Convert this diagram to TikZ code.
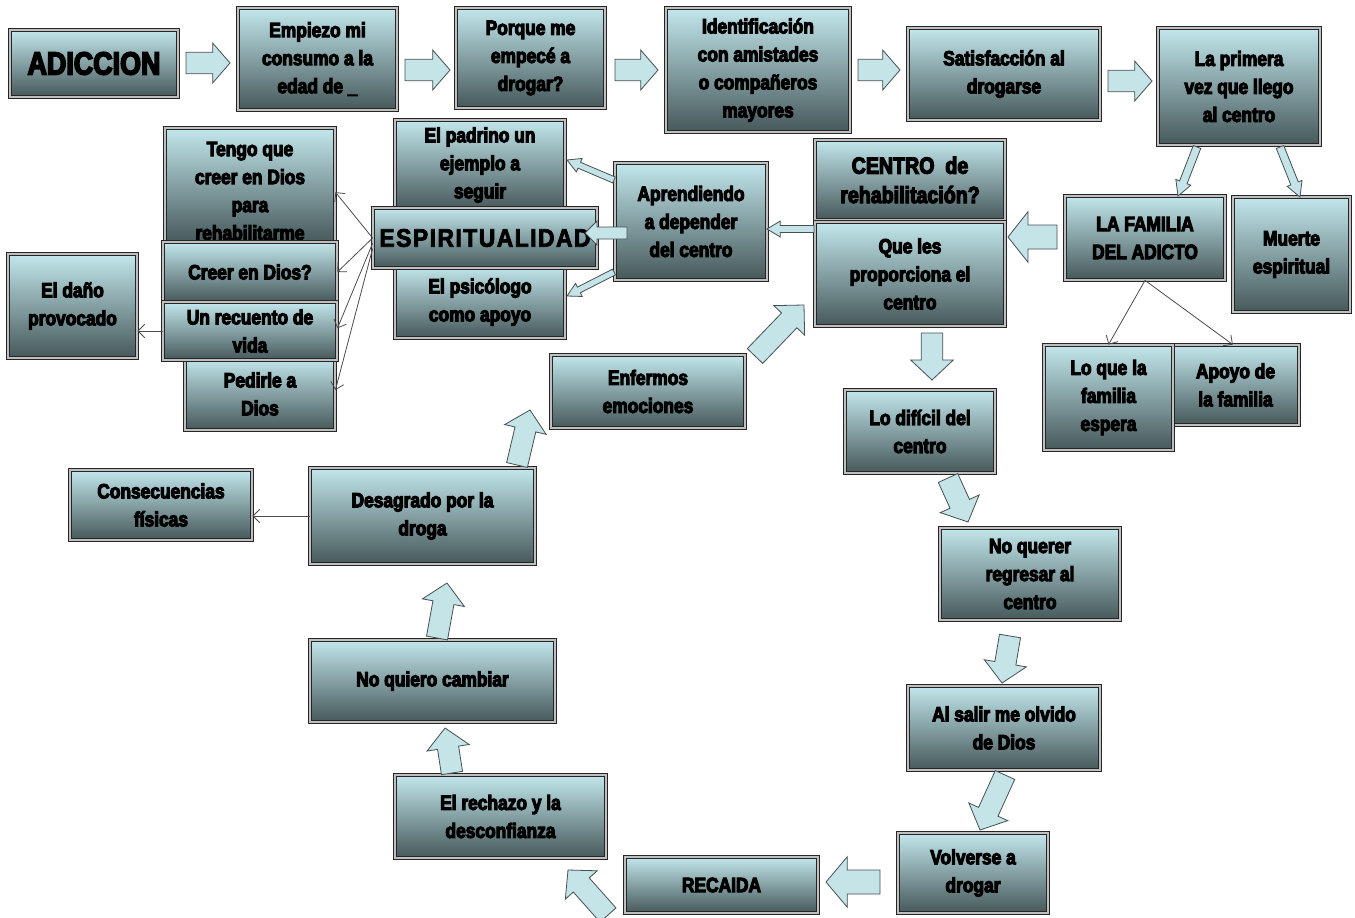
\documentclass[tikz,border=0pt]{standalone}
\usepackage{fontspec}
\setmainfont{Liberation Sans}
\newfontfamily\cfont{Liberation Sans}[FakeStretch=0.84,FakeBold=5]
\newfontfamily\wfont{Liberation Sans}[FakeStretch=0.9,LetterSpace=6,FakeBold=3]
\usetikzlibrary{calc,arrows.meta}
\definecolor{boxtop}{RGB}{194,231,236}
\definecolor{boxbot}{RGB}{70,88,90}
\definecolor{arrfill}{RGB}{196,228,232}
\definecolor{arrline}{RGB}{70,80,82}
\tikzset{
  box/.style={draw=black!85, line width=0.6pt, double=gray!50, double distance=1.6pt,
    top color=boxtop, bottom color=boxbot, inner sep=0pt, align=center,
    font=\cfont\bfseries\fontsize{15.5}{21}\selectfont, text=black},
  ln/.style={draw=black!70, line width=0.6pt, -{Straight Barb[length=5pt,width=10pt]}},
  barr/.style={draw=arrline, line width=0.6pt, fill=arrfill, line join=miter}
}
% box: [opts] x1 y1 x2 y2 name text
\newcommand\bx[7][]{\node[box,minimum width={(#4-#2)*0.75pt},minimum height={(#5-#3)*0.75pt},#1] (#6) at ({(#2+#4)/2},{(#3+#5)/2}) {#7};}
% block arrow: tail, tip, name, shaft half width, head half width, head length
\newcommand\barrow[6]{%
  \coordinate (#3-t) at (#1); \coordinate (#3-h) at (#2);
  \coordinate (#3-b) at ($(#3-h)!#6!(#3-t)$);
  \draw[barr] ($(#3-t)!#4!90:(#3-h)$) -- ($(#3-b)!#4!90:(#3-h)$) -- ($(#3-b)!#5!90:(#3-h)$) -- (#3-h) -- ($(#3-b)!#5!-90:(#3-h)$) -- ($(#3-b)!#4!-90:(#3-h)$) -- ($(#3-t)!#4!-90:(#3-h)$) -- cycle;}
\begin{document}
\begin{tikzpicture}[x=0.75pt,y=-0.75pt]
\fill[white] (0,0) rectangle (1355,917);
\useasboundingbox (0,0) rectangle (1355,917);
% top row
\bx[font=\cfont\bfseries\fontsize{24}{26}\selectfont]{10}{30}{178}{97}{adic}{ADICCION}
\bx{238}{8}{397}{110}{empiezo}{Empiezo mi\\consumo a la\\edad de \_}
\bx{456}{8}{605}{108}{porque}{Porque me\\empecé a\\drogar?}
\bx{666}{8}{850}{132}{ident}{Identificación\\con amistades\\o compañeros\\mayores}
\bx{908}{28}{1100}{120}{satis}{Satisfacción al\\drogarse}
\bx{1158}{28}{1320}{145}{primera}{La primera\\vez que llego\\al centro}
% left cluster
\bx{165}{128}{335}{243}{tengo}{\rule{0pt}{19pt}Tengo que\\creer en Dios\\para\\rehabilitarme}
\bx{163}{242}{337}{302}{creer}{Creer en Dios?}
\bx{185}{358}{335}{430}{pedir}{Pedirle a\\Dios}
\bx{163}{302}{337}{360}{recuento}{Un recuento de\\vida}
\bx{8}{254}{137}{358}{dano}{El daño\\provocado}
\bx{395}{120}{565}{210}{padrino}{El padrino un\\ejemplo a\\seguir}
\bx{395}{266}{565}{338}{psico}{El psicólogo\\como apoyo}
\bx[font=\wfont\bfseries\fontsize{19}{22}\selectfont]{373}{208}{597}{268}{espi}{ESPIRITUALIDAD}
\bx{615}{163}{767}{280}{aprend}{Aprendiendo\\a depender\\del centro}
% centre
\bx[font=\cfont\bfseries\fontsize{17.5}{22}\selectfont]{815}{140}{1005}{220}{centro}{CENTRO\ \ de\\rehabilitación?}
\bx{815}{222}{1005}{326}{queles}{Que les\\proporciona el\\centro}
\bx{1065}{196}{1225}{280}{familia}{LA FAMILIA\\DEL ADICTO}
\bx{1233}{197}{1350}{312}{muerte}{Muerte\\espiritual}
\bx{1172}{345}{1299}{425}{apoyo}{Apoyo de\\la familia}
\bx{1044}{345}{1173}{450}{loque}{Lo que la\\familia\\espera}
% cycle
\bx{551}{355}{745}{428}{enfermos}{Enfermos\\emociones}
\bx{845}{390}{995}{473}{dificil}{Lo difícil del\\centro}
\bx{70}{470}{252}{540}{consec}{Consecuencias\\físicas}
\bx{310}{468}{535}{564}{desag}{Desagrado por la\\droga}
\bx{940}{528}{1120}{620}{noquerer}{No querer\\regresar al\\centro}
\bx{310}{640}{555}{722}{noquiero}{No quiero cambiar}
\bx{908}{686}{1100}{770}{alsalir}{Al salir me olvido\\de Dios}
\bx{395}{775}{606}{858}{rechazo}{El rechazo y la\\desconfianza}
\bx{898}{833}{1048}{913}{volverse}{Volverse a\\drogar}
\bx{625}{857}{818}{913}{recaida}{RECAIDA}
% line connectors
\draw[ln] (espi.west) -- ([yshift=-5pt]tengo.east);
\draw[ln] (espi.west) -- (creer.east);
\draw[ln] ([yshift=-4pt]espi.west) -- ([yshift=2pt]recuento.east);
\draw[ln] ([yshift=-8pt]espi.west) -- ([yshift=3pt]pedir.east);
\draw[ln] (recuento.west) -- (recuento.west -| dano.east);
\draw[ln] (desag.west) -- (desag.west -| consec.east);
\draw[ln] (familia.south) -- (loque.north);
\draw[ln] (familia.south) -- ([xshift=-2pt]apoyo.north);
% block arrows
\barrow{186,63}{230,63}{a1}{8pt}{15pt}{13pt}
\barrow{405,70}{450,70}{a2}{8pt}{15pt}{13pt}
\barrow{615,70}{658,70}{a3}{8pt}{15pt}{13pt}
\barrow{858,70}{900,70}{a4}{8pt}{15pt}{13pt}
\barrow{1108,81}{1152,81}{a5}{8pt}{15pt}{13pt}
\barrow{1197,147}{1178,196}{a6}{3pt}{6pt}{11pt}
\barrow{1280,147}{1300,197}{a7}{3pt}{6pt}{11pt}
\barrow{1057,237}{1008,237}{a8}{9pt}{19pt}{15pt}
\barrow{814,229}{767,229}{a9}{2.6pt}{6pt}{10pt}
\barrow{627,233}{585,233}{a10}{4.5pt}{9pt}{9pt}
\barrow{614,180}{567,160}{a11}{2.4pt}{5.5pt}{10pt}
\barrow{614,272}{567,296}{a12}{2.4pt}{5.5pt}{10pt}
\barrow{755,356}{804,305}{a13}{8pt}{16pt}{16pt}
\barrow{932,333}{932,380}{a14}{8pt}{16pt}{15pt}
\barrow{948,478}{968,522}{a15}{8pt}{16pt}{15pt}
\barrow{1010,636}{1002,683}{a16}{8pt}{16pt}{15pt}
\barrow{1005,775}{980,830}{a17}{8pt}{16pt}{15pt}
\barrow{880,882}{826,882}{a18}{9pt}{19pt}{16pt}
\barrow{608,915}{568,870}{a19}{8pt}{16pt}{15pt}
\barrow{452,773}{445,728}{a20}{8pt}{16pt}{15pt}
\barrow{437,638}{447,583}{a21}{8pt}{16pt}{15pt}
\barrow{517,465}{530,410}{a22}{8pt}{16pt}{15pt}
\end{tikzpicture}
\end{document}
